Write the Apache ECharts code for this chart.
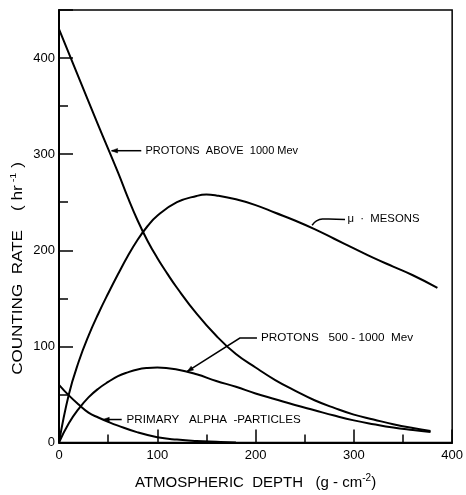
<!DOCTYPE html>
<html>
<head>
<meta charset="utf-8">
<script src="https://cdn.jsdelivr.net/npm/echarts@6/dist/echarts.min.js"></script>
<style>
html,body{margin:0;padding:0;background:#fff;}
#main{width:466px;height:495px;}
</style>
</head>
<body>
<div id="main"></div>
<script>
// ---- data ----
const xTicks = [0, 100, 200, 300, 400];
const yTicks = [0, 100, 200, 300, 400];

const depthP1000 = [0, 20, 40, 60, 70, 80, 90, 100, 110, 120, 140, 160, 180, 200, 220, 240, 260, 280, 300, 320, 340, 360, 378];
const rateP1000  = [430, 380, 330, 281, 255, 231, 210, 192, 176, 161, 134, 111, 92, 78, 65, 54, 44, 36, 29, 24, 19, 15, 12];

const depthMu = [0, 10, 20, 30, 40, 50, 60, 70, 80, 90, 100, 120, 140, 150, 160, 180, 200, 220, 240, 260, 280, 300, 320, 340, 360, 385];
const rateMu  = [0, 50, 84, 111, 134, 155, 175, 194, 211, 225, 236, 250, 256.5, 258, 257, 253, 247, 239, 231, 222, 212, 202, 192, 183, 174, 161];

const depthP500 = [0, 10, 20, 30, 40, 50, 60, 70, 80, 90, 100, 120, 140, 160, 180, 200, 220, 240, 260, 280, 300, 320, 340, 360, 378];
const rateP500  = [0, 20, 35, 47, 56, 63, 69, 73, 76, 77.5, 78, 76, 71, 64, 58, 51, 45, 39, 33.5, 28, 23, 19, 15.5, 13, 11];

const depthAlpha = [0, 10, 20, 30, 40, 50, 60, 80, 100, 120, 140, 160, 180];
const rateAlpha  = [60, 49, 39.5, 31, 26, 21.5, 17.5, 10.5, 5.5, 3, 1.5, 0.7, 0];

const labelP1000 = 'PROTONS  ABOVE  1000 Mev';
const labelMu = 'μ  ·  MESONS';
const labelP500 = 'PROTONS   500 - 1000  Mev';
const labelAlpha = 'PRIMARY   ALPHA  -PARTICLES';

// annotation anchors in data coordinates
const annotations = [
  {text: labelP1000, at: [88, 303.6], leader: [[83.7, 303.6], [53.5, 303.6]], arrow: true, smooth: 0, stretch: 1.0},
  {text: labelMu, at: [293.5, 232.5], leader: [[291, 232], [268, 232.5], [262, 230.5], [257.5, 226]], arrow: false, smooth: 0.4, stretch: 1.03},
  {text: labelP500, at: [205.5, 108.6], leader: [[201.4, 108.6], [184, 108.6], [130.5, 74]], arrow: true, smooth: 0, stretch: 1.065},
  {text: labelAlpha, at: [68.8, 23.9], leader: [[63.8, 23.9], [45, 23.9]], arrow: true, smooth: 0, stretch: 1.055}
];

const zip = (xs, ys) => xs.map((x, i) => [x, ys[i]]);
const FONT = '"Liberation Sans", Arial, sans-serif';

const lineSeries = (name, xs, ys) => ({
  name, type: 'line', xAxisIndex: 0, yAxisIndex: 0,
  data: zip(xs, ys), showSymbol: false, symbol: 'none', smooth: 0.45,
  lineStyle: {color: '#000', width: 2}, silent: true, animation: false
});

const chart = echarts.init(document.getElementById('main'));
const option = {
  animation: false,
  grid: {left: 59, right: 12, top: 10, bottom: 43, show: true, borderColor: '#000', borderWidth: 1.5, backgroundColor: 'transparent'},
  xAxis: [{
    type: 'value', min: 0, max: 400, interval: 100,
    axisLine: {show: true, lineStyle: {color: '#000', width: 2}},
    axisTick: {show: true, inside: true, length: 13, lineStyle: {color: '#000', width: 1.5}},
    minorTick: {show: true, splitNumber: 2, length: 8, lineStyle: {color: '#000', width: 1.5}},
    splitLine: {show: false},
    axisLabel: {color: '#000', fontFamily: FONT, fontSize: 13, margin: 6,
      formatter: v => xTicks.includes(v) ? String(v) : ''},
    name: '{a|ATMOSPHERIC  DEPTH   (g - cm}{s|-2}{a|)}',
    nameLocation: 'middle', nameGap: 31,
    nameTextStyle: {color: '#000', fontFamily: FONT, fontSize: 15,
      rich: {a: {fontFamily: FONT, fontSize: 15, color: '#000', lineHeight: 18},
             s: {fontFamily: FONT, fontSize: 10, color: '#000', verticalAlign: 'top', lineHeight: 18, padding: [0, 0, 6, 0]}}}
  }],
  yAxis: [{
    type: 'value', min: 0, max: 450, interval: 100,
    axisLine: {show: true, lineStyle: {color: '#000', width: 2}},
    axisTick: {show: true, inside: true, length: 14, lineStyle: {color: '#000', width: 1.5}},
    splitLine: {show: false},
    axisLabel: {color: '#000', fontFamily: FONT, fontSize: 13, margin: 4,
      formatter: v => yTicks.includes(v) ? String(v) : ''}
  }, {
    type: 'value', min: 0, max: 450, interval: 50, position: 'left', offset: 0,
    axisLine: {show: false},
    axisTick: {show: true, inside: true, length: 9, lineStyle: {color: '#000', width: 1.5}},
    splitLine: {show: false},
    axisLabel: {show: false}
  }],
  series: [
    lineSeries('Protons above 1000 Mev', depthP1000, rateP1000),
    lineSeries('μ-mesons', depthMu, rateMu),
    lineSeries('Protons 500-1000 Mev', depthP500, rateP500),
    lineSeries('Primary alpha-particles', depthAlpha, rateAlpha)
  ]
};
chart.setOption(option);

const toPx = p => chart.convertToPixel({xAxisIndex: 0, yAxisIndex: 0}, p);
const graphics = [];
annotations.forEach(a => {
  const pts = a.leader.map(toPx);
  graphics.push({type: 'polyline', silent: true, shape: {points: pts, smooth: a.smooth},
    style: {stroke: '#000', lineWidth: 1.5, fill: null}});
  if (a.arrow) {
    const p1 = pts[pts.length - 2], p2 = pts[pts.length - 1];
    const dx = p2[0] - p1[0], dy = p2[1] - p1[1];
    const L = Math.hypot(dx, dy), ux = dx / L, uy = dy / L;
    const len = 6, w = 2.3;
    const bx = p2[0] - ux * len, by = p2[1] - uy * len;
    graphics.push({type: 'polygon', silent: true, shape: {points: [
      p2, [bx - uy * w, by + ux * w], [bx + uy * w, by - ux * w]]},
      style: {fill: '#000', stroke: '#000', lineWidth: 0.5}});
  }
  const tp = toPx(a.at);
  graphics.push({type: 'group', x: tp[0], y: tp[1], children: [
    {type: 'text', silent: true, x: 0, y: 0, scaleX: a.stretch, scaleY: 1,
     style: {text: a.text, fill: '#000', font: '11px ' + FONT, align: 'left', verticalAlign: 'middle'}}]});
});
// y-axis title
graphics.push({type: 'group', x: 18, y: 268.5, rotation: Math.PI / 2, children: [
  {type: 'text', silent: true, x: 0, y: 0, scaleX: 1.22, scaleY: 1,
   style: {text: '{a|COUNTING  RATE    ( hr}{s| -1}{a| )}', align: 'center', verticalAlign: 'middle',
    rich: {a: {fontFamily: FONT, fontSize: 14, fill: '#000', color: '#000', lineHeight: 18},
           s: {fontFamily: FONT, fontSize: 9, fill: '#000', color: '#000', verticalAlign: 'top', lineHeight: 18, padding: [0, 0, 6, 0]}}}}]});
chart.setOption({graphic: graphics});
</script>
</body>
</html>
